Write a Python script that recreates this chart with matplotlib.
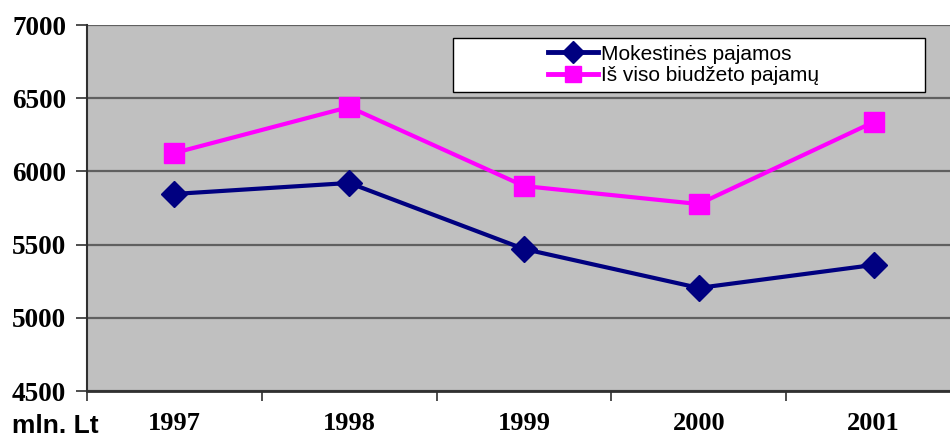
import numpy as np
import matplotlib.pyplot as plt
from matplotlib.patches import Rectangle

# Data
years = ['1997', '1998', '1999', '2000', '2001']
mokestines = [5846, 5921, 5470, 5204, 5361]
is_viso = [6126, 6440, 5900, 5777, 6337]

W, H = 950, 438
fig = plt.figure(figsize=(9.5, 4.38), dpi=100)
ax = fig.add_axes([87 / W, 1 - 391 / H, (961 - 87) / W, (391 - 25) / H])
ax.set_facecolor('#c0c0c0')

x = np.arange(len(years))
ax.plot(x, mokestines, color='#000080', lw=3, marker='D', ms=13.5,
        label='Mokestinės pajamos', zorder=3)
ax.plot(x, is_viso, color='#ff00ff', lw=3, marker='s', ms=15,
        label='Iš viso biudžeto pajamų', zorder=3)

ax.set_xlim(-0.5, len(years) - 0.5)
ax.set_ylim(4500, 7000)
ax.set_yticks(np.arange(4500, 7001, 500))
ax.yaxis.grid(True, color='#606060', lw=1.6)
ax.set_axisbelow(True)

ax.set_xticks(np.arange(-0.5, len(years), 1))
ax.set_xticklabels([])
ax.set_xticks(x, minor=True)
ax.set_xticklabels(years, minor=True, fontfamily='Liberation Serif',
                   fontweight='bold', fontsize=19)
ax.tick_params(axis='x', which='minor', length=0, pad=15)
ax.tick_params(axis='x', which='major', length=7, width=1.2, color='#303030')
ax.tick_params(axis='y', length=8, width=1.2, color='#303030', pad=7)
for lab in ax.get_yticklabels():
    lab.set_fontfamily('Liberation Serif')
    lab.set_fontweight('bold')
    lab.set_fontsize(19.5)

ax.spines['top'].set_visible(False)
ax.spines['right'].set_visible(False)
ax.spines['left'].set_color('#303030')
ax.spines['left'].set_linewidth(1.5)
ax.spines['bottom'].set_color('#303030')
ax.spines['bottom'].set_linewidth(2)

# legend box drawn separately so the entries sit centred in a wide frame
def ax_xy(px, py):
    return (px - 87) / 874, (391 - py) / 366

x0, y0 = ax_xy(453, 92)
x1, y1 = ax_xy(925, 38)
ax.add_patch(Rectangle((x0, y0), x1 - x0, y1 - y0, transform=ax.transAxes,
                       facecolor='white', edgecolor='black', lw=1, zorder=4))
leg = ax.legend(loc='center', bbox_to_anchor=((x0 + x1) / 2 - 0.006, (y0 + y1) / 2),
                frameon=False, prop={'family': 'Liberation Sans', 'size': 15},
                handlelength=2.4, handletextpad=0.15, borderpad=0,
                labelspacing=0.12, borderaxespad=0)
leg.set_zorder(5)
for h in leg.legend_handles:
    h.set_markersize(11)
    h.set_linewidth(3.5)

fig.text(12 / W, 1 - 433 / H, 'mln. Lt', fontfamily='Liberation Sans',
         fontweight='bold', fontsize=19, ha='left', va='baseline')

fig.savefig('out.png', dpi=100)
